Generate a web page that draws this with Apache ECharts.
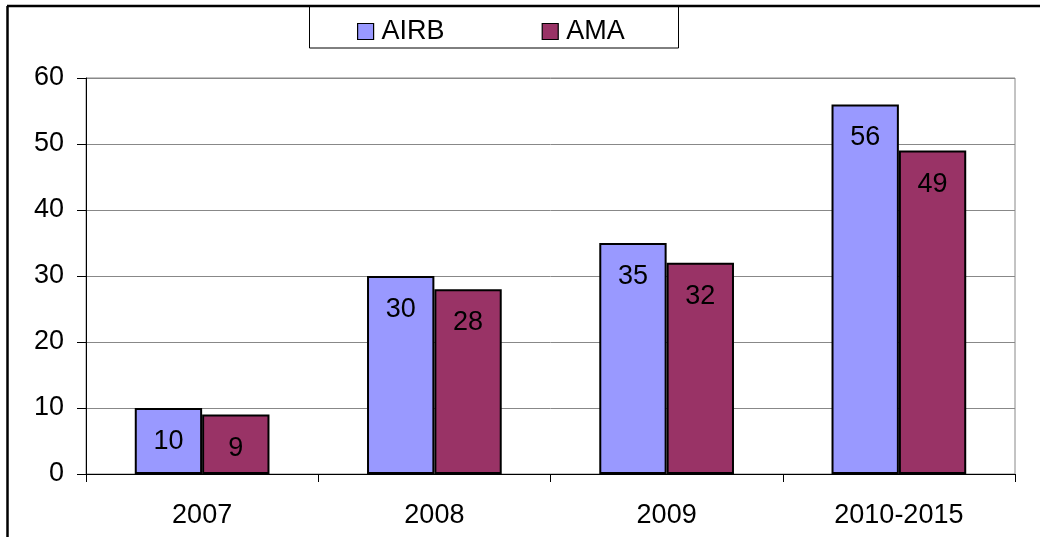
<!DOCTYPE html>
<html><head><meta charset="utf-8">
<script src="https://cdn.jsdelivr.net/npm/echarts@6/dist/echarts.min.js"></script>
<style>html,body{margin:0;padding:0;background:#fff}#c{width:1040px;height:537px}</style>
</head><body><div id="c"></div>
<script>
const categories = ['2007', '2008', '2009', '2010-2015'];
const airb = [10, 30, 35, 56];
const ama = [9, 28, 32, 49];
const seriesNames = ['AIRB', 'AMA'];
const colors = ['#9999FF', '#993366'];

const chart = echarts.init(document.getElementById('c'), null, {renderer: 'canvas'});
const font = 'Liberation Sans, Arial, sans-serif';
const FS = 27;
const lbl = {show: true, position: 'insideTop', distance: 20, color: '#000', fontSize: FS, fontFamily: font};
chart.setOption({
  animation: false,
  backgroundColor: '#fff',
  textStyle: {fontFamily: font},
  graphic: [
    {type: 'line', shape: {x1: 7, y1: 6, x2: 1040, y2: 6}, style: {stroke: '#000', lineWidth: 2.5}, z: 100},
    {type: 'line', shape: {x1: 7.5, y1: 6, x2: 7.5, y2: 537}, style: {stroke: '#000', lineWidth: 2.5}, z: 100},
    {type: 'rect', shape: {x: 309.5, y: 6, width: 369, height: 42}, style: {fill: 'none', stroke: '#000', lineWidth: 1}, z: 90}
  ],
  legend: {
    data: seriesNames,
    left: 352, top: 13, padding: 5,
    itemWidth: 16, itemHeight: 16, itemGap: 97,
    icon: 'rect',
    itemStyle: {borderColor: '#000', borderWidth: 1.2},
    textStyle: {fontSize: FS, color: '#000', fontFamily: font, padding: [0, 0, 0, 3]}
  },
  grid: {left: 86, right: 25, top: 78, bottom: 63, show: true, borderColor: '#888', borderWidth: 1},
  xAxis: {
    type: 'category', data: categories,
    axisLine: {lineStyle: {color: '#000', width: 1}},
    axisTick: {show: true, length: 8, lineStyle: {color: '#000'}},
    axisLabel: {fontSize: FS, color: '#000', margin: 28, fontFamily: font}
  },
  yAxis: {
    type: 'value', min: 0, max: 60, interval: 10,
    axisLine: {show: true, lineStyle: {color: '#000', width: 1}},
    axisTick: {show: true, length: 9, lineStyle: {color: '#000'}},
    axisLabel: {fontSize: FS, color: '#000', margin: 22, fontFamily: font},
    splitLine: {lineStyle: {color: '#888', width: 1}}
  },
  series: [
    {name: seriesNames[0], type: 'bar', data: airb, barGap: '0%', barCategoryGap: '42%',
     itemStyle: {color: colors[0], borderColor: '#000', borderWidth: 2}, label: lbl},
    {name: seriesNames[1], type: 'bar', data: ama,
     itemStyle: {color: colors[1], borderColor: '#000', borderWidth: 2}, label: lbl}
  ]
});
</script></body></html>
